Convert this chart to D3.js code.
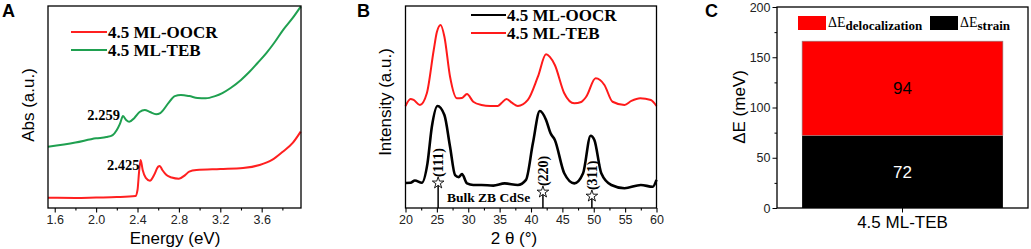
<!DOCTYPE html>
<html>
<head>
<meta charset="utf-8">
<script src="https://cdn.jsdelivr.net/npm/d3@7"></script>
<style>
  body { margin: 0; background: #fff; }
  svg { display: block; }
  .tick text { font-family: "Liberation Sans", Arial, sans-serif; font-size: 12.5px; fill: #222; }
  .domain { display: none; }
</style>
</head>
<body>
<div id="chart"></div>
<script>
// ---- panel A : absorption ----
const energyOOCR = [1.535, 1.8, 2.0, 2.2, 2.38, 2.40, 2.415, 2.43, 2.45, 2.48, 2.52, 2.56, 2.6, 2.615, 2.64, 2.68, 2.73, 2.8, 2.86, 2.9, 2.97, 3.2, 3.42, 3.58, 3.7, 3.8, 3.9, 3.977];
const absOOCR = [5.1, 5.0, 5.2, 5.4, 5.9, 8.9, 17.8, 23.8, 18.8, 14.9, 13.5, 16.3, 20.5, 20.8, 18.8, 16.3, 15.1, 14.5, 16.3, 18.0, 18.8, 19.3, 19.8, 21.3, 23.8, 27.7, 32.2, 37.8];
const energyTEB = [1.535, 1.8, 2.0, 2.1, 2.16, 2.2, 2.23, 2.26, 2.29, 2.32, 2.37, 2.42, 2.47, 2.52, 2.58, 2.62, 2.7, 2.76, 2.82, 2.9, 2.98, 3.06, 3.15, 3.22, 3.3, 3.4, 3.48, 3.56, 3.645, 3.72, 3.806, 3.9, 3.977];
const absTEB = [30.3, 32.4, 34.5, 35.1, 36.1, 38.6, 41.6, 45.5, 43.6, 42.7, 44.6, 47.5, 48.5, 47.5, 46.4, 47.0, 52.0, 55.4, 55.9, 55.4, 54.5, 54.3, 55.4, 56.9, 59.4, 63.4, 67.3, 71.8, 76.7, 81.7, 88.1, 94.1, 99.7];
const energyTicks = [1.6, 2.0, 2.4, 2.8, 3.2, 3.6];
const energyMinor = [1.8, 2.2, 2.6, 3.0, 3.4, 3.8];
const absSeries = ["4.5 ML-OOCR", "4.5 ML-TEB"];
const absColors = ["#ff2020", "#1fa050"];
const peakLabels = ["2.425", "2.259"];
const peakEnergy = [2.42, 2.23];
const peakAbs = [21.5, 46];

// ---- panel B : XRD ----
const thetaTEB = [20.0, 20.8, 21.3, 22.3, 23.4, 24.5, 25.0, 25.6, 26.2, 27.1, 28.2, 29.0, 29.8, 30.8, 32.1, 33.5, 34.7, 35.3, 36.1, 37.0, 37.9, 39.5, 41.1, 42.4, 43.0, 43.8, 45.3, 46.9, 48.0, 48.8, 50.3, 51.0, 51.7, 53.0, 54.9, 56.0, 57.4, 59.1, 60.0];
const intTEB = [50.5, 54.0, 53.5, 51.0, 56.8, 78.2, 87.1, 90.6, 84.8, 65.0, 54.3, 54.5, 56.4, 52.6, 51.0, 50.5, 50.5, 52.0, 54.0, 52.0, 50.5, 53.5, 65.0, 76.1, 74.8, 70.8, 56.8, 51.8, 52.5, 55.1, 64.2, 63.4, 60.9, 52.6, 51.0, 53.0, 54.3, 53.5, 50.5];
const thetaOOCR = [20.0, 20.8, 21.5, 22.6, 23.5, 24.2, 25.1, 26.2, 27.1, 27.9, 28.5, 29.0, 29.8, 30.8, 32.1, 34.0, 35.8, 37.9, 39.2, 40.3, 41.4, 42.4, 43.1, 43.8, 45.3, 46.9, 48.3, 49.5, 50.1, 51.2, 52.8, 54.9, 57.5, 59.4, 60.0];
const intOOCR = [12.4, 12.5, 13.6, 12.5, 22.1, 40.2, 50.5, 46.0, 30.3, 16.3, 15.3, 16.8, 12.2, 11.4, 11.4, 11.1, 12.2, 11.4, 13.9, 32.0, 48.0, 43.6, 37.1, 33.7, 17.2, 12.2, 17.2, 35.8, 33.7, 17.2, 11.4, 9.8, 11.4, 10.5, 13.9];
const thetaTicks = [20, 25, 30, 35, 40, 45, 50, 55, 60];
const thetaMinor = [22.5, 27.5, 32.5, 37.5, 42.5, 47.5, 52.5, 57.5];
const xrdSeries = ["4.5 ML-OOCR", "4.5 ML-TEB"];
const xrdColors = ["#000000", "#ff1a1a"];
const refTheta = [25.2, 41.9, 49.7];
const refInt = [11.9, 7.4, 5.4];
const refLabels = ["(111)", "(220)", "(311)"];

// ---- panel C : energy shift ----
const sample = ["4.5 ML-TEB"];
const dStrain = [72];
const dDeloc = [94];
const deTicks = [0, 50, 100, 150, 200];
const deMinor = [25, 75, 125, 175];

const W = 1031, H = 249;
const svg = d3.select('#chart').append('svg').attr('width', W).attr('height', H);

const sans = '"Liberation Sans", Arial, sans-serif';
const serif = '"Liberation Serif", "Times New Roman", serif';

function frame(x0, x1, y0, y1) {
  svg.append('rect')
    .attr('x', x0).attr('y', y0)
    .attr('width', x1 - x0).attr('height', y1 - y0)
    .attr('fill', 'none').attr('stroke', '#000').attr('stroke-width', 1.3);
}

function bottomAxis(scale, y, major, minor, fmt) {
  svg.append('g')
    .attr('transform', `translate(0,${y})`)
    .call(d3.axisBottom(scale).tickValues(major).tickSize(4.5).tickPadding(3).tickFormat(fmt))
    .selectAll('line').attr('stroke-width', 1.1);
  svg.append('g')
    .attr('transform', `translate(0,${y})`)
    .call(d3.axisBottom(scale).tickValues(minor).tickSize(2.5).tickFormat(''))
    .selectAll('line').attr('stroke-width', 1.1);
}

function panelLetter(t, x) {
  svg.append('text').attr('x', x).attr('y', 17)
    .style('font-family', sans).style('font-weight', 'bold').style('font-size', '18px')
    .text(t);
}

function yTitle(t, x, y) {
  svg.append('text')
    .attr('transform', `translate(${x},${y}) rotate(-90)`)
    .attr('text-anchor', 'middle')
    .style('font-family', sans).style('font-size', '17px')
    .text(t);
}

function xTitle(t, x, y) {
  svg.append('text').attr('x', x).attr('y', y)
    .attr('text-anchor', 'middle')
    .style('font-family', sans).style('font-size', '17px')
    .text(t);
}

function legend(names, colors, lx0, lx1, ys) {
  names.forEach((n, i) => {
    svg.append('line')
      .attr('x1', lx0).attr('x2', lx1).attr('y1', ys[i]).attr('y2', ys[i])
      .attr('stroke', colors[i]).attr('stroke-width', 2);
    svg.append('text').attr('x', lx1 + 1).attr('y', ys[i] + 5.5)
      .style('font-family', serif).style('font-weight', 'bold').style('font-size', '17px')
      .text(n);
  });
}

// ================= A =================
const plotTop = 6, plotBottom = 208;
const xA = d3.scaleLinear().domain([1.535, 3.98]).range([48, 301]);
const yA = d3.scaleLinear().domain([0, 100]).range([plotBottom, plotTop]);
const lineA = d3.line().x(d => xA(d[0])).y(d => yA(d[1])).curve(d3.curveMonotoneX);

const dataA = [d3.zip(energyOOCR, absOOCR), d3.zip(energyTEB, absTEB)];
dataA.forEach((d, i) => {
  svg.append('path').datum(d)
    .attr('d', lineA)
    .attr('fill', 'none').attr('stroke', absColors[i]).attr('stroke-width', 2);
});

peakLabels.forEach((t, i) => {
  svg.append('text')
    .attr('x', xA(peakEnergy[i])).attr('y', yA(peakAbs[i]) + 5)
    .attr('text-anchor', 'end')
    .style('font-family', serif).style('font-weight', 'bold').style('font-size', '14.5px')
    .text(t);
});

frame(48, 301, plotTop, plotBottom);
bottomAxis(xA, plotBottom, energyTicks, energyMinor, d3.format('.1f'));
legend(absSeries, absColors, 71, 107, [32, 50]);
panelLetter('A', 2);
yTitle('Abs (a.u.)', 34, 105);
xTitle('Energy (eV)', 175, 244);

// ================= B =================
const xB = d3.scaleLinear().domain([20, 60]).range([405.5, 656.5]);
const yB = d3.scaleLinear().domain([0, 100]).range([plotBottom, plotTop]);
const lineB = d3.line().x(d => xB(d[0])).y(d => yB(d[1])).curve(d3.curveMonotoneX);

const dataB = [d3.zip(thetaOOCR, intOOCR), d3.zip(thetaTEB, intTEB)];
dataB.forEach((d, i) => {
  svg.append('path').datum(d)
    .attr('d', lineB)
    .attr('fill', 'none').attr('stroke', xrdColors[i]).attr('stroke-width', i === 0 ? 2.6 : 2);
});

// reference sticks (bulk ZB CdSe)
const refs = d3.zip(refTheta, refInt, refLabels);
svg.selectAll('.ref-line').data(refs).enter().append('line')
  .attr('class', 'ref-line')
  .attr('x1', d => xB(d[0])).attr('x2', d => xB(d[0]))
  .attr('y1', yB(0)).attr('y2', d => yB(d[1]))
  .attr('stroke', '#000').attr('stroke-width', 1.5);
svg.selectAll('.ref-star').data(refs).enter().append('path')
  .attr('class', 'ref-star')
  .attr('transform', d => `translate(${xB(d[0])},${yB(d[1]) - 1})`)
  .attr('d', d3.symbol(d3.symbolStar).size(42))
  .attr('fill', '#fff').attr('stroke', '#000').attr('stroke-width', 0.9);
svg.selectAll('.ref-label').data(refs).enter().append('text')
  .attr('class', 'ref-label')
  .attr('transform', d => `translate(${xB(d[0]) + 5},${yB(d[1]) - 7}) rotate(-90)`)
  .style('font-family', serif).style('font-weight', 'bold').style('font-size', '14px')
  .text(d => d[2]);
svg.append('text')
  .attr('x', xB(26.6)).attr('y', 201.5)
  .style('font-family', serif).style('font-weight', 'bold').style('font-size', '13.5px')
  .text('Bulk ZB CdSe');

frame(405.5, 656.5, plotTop, plotBottom);
bottomAxis(xB, plotBottom, thetaTicks, thetaMinor, d3.format('d'));
legend(xrdSeries, xrdColors, 471, 506, [15, 33]);
panelLetter('B', 357);
yTitle('Intensity (a.u.)', 391, 102);
xTitle('2 \u03B8 (\u00B0)', 514, 244);

// ================= C =================
const xC = d3.scaleBand().domain(sample).range([777, 1028]).paddingInner(0).paddingOuter(0.125);
const yC = d3.scaleLinear().domain([0, 200]).range([plotBottom, 7]);

const stacked = sample.map((s, i) => ({ s, strain: dStrain[i], deloc: dDeloc[i] }));
svg.selectAll('.bar-strain').data(stacked).enter().append('rect')
  .attr('class', 'bar-strain')
  .attr('x', d => xC(d.s)).attr('width', xC.bandwidth())
  .attr('y', d => yC(d.strain)).attr('height', d => yC(0) - yC(d.strain))
  .attr('fill', '#000');
svg.selectAll('.bar-deloc').data(stacked).enter().append('rect')
  .attr('class', 'bar-deloc')
  .attr('x', d => xC(d.s)).attr('width', xC.bandwidth())
  .attr('y', d => yC(d.strain + d.deloc)).attr('height', d => yC(d.strain) - yC(d.strain + d.deloc))
  .attr('fill', '#ff0000').attr('stroke', '#888').attr('stroke-width', 0.6);
svg.selectAll('.val-deloc').data(stacked).enter().append('text')
  .attr('x', d => xC(d.s) + xC.bandwidth() / 2).attr('y', d => yC(d.strain + d.deloc / 2) + 6)
  .attr('text-anchor', 'middle')
  .style('font-family', sans).style('font-size', '17px')
  .text(d => d.deloc);
svg.selectAll('.val-strain').data(stacked).enter().append('text')
  .attr('x', d => xC(d.s) + xC.bandwidth() / 2).attr('y', d => yC(d.strain / 2) + 6)
  .attr('text-anchor', 'middle').attr('fill', '#fff')
  .style('font-family', sans).style('font-size', '17px')
  .text(d => d.strain);

frame(777, 1028, 7, plotBottom);
svg.append('g').attr('transform', 'translate(777,0)')
  .call(d3.axisLeft(yC).tickValues(deTicks).tickSize(4.5).tickPadding(2).tickFormat(d3.format('d')));
svg.append('g').attr('transform', 'translate(777,0)')
  .call(d3.axisLeft(yC).tickValues(deMinor).tickSize(2.5).tickFormat(''));
svg.append('g').attr('transform', `translate(0,${plotBottom})`)
  .call(d3.axisBottom(xC).tickSize(4.5).tickPadding(3))
  .selectAll('text').style('font-size', '17px').style('fill', '#000');

// legend C
const legC = [{ c: '#ff0000', sub: 'delocalization', x: 798 }, { c: '#000', sub: 'strain', x: 930 }];
legC.forEach(l => {
  svg.append('rect').attr('x', l.x).attr('y', 16).attr('width', 28).attr('height', 14).attr('fill', l.c);
  const t = svg.append('text').attr('x', l.x + 30).attr('y', 27)
    .style('font-family', serif).style('font-size', '14px');
  t.append('tspan').text('\u0394E');
  t.append('tspan').attr('dy', 3).style('font-weight', 'bold').style('font-size', '13px').text(l.sub);
});

panelLetter('C', 705);
yTitle('\u0394E (meV)', 745, 107);
</script>
</body>
</html>
